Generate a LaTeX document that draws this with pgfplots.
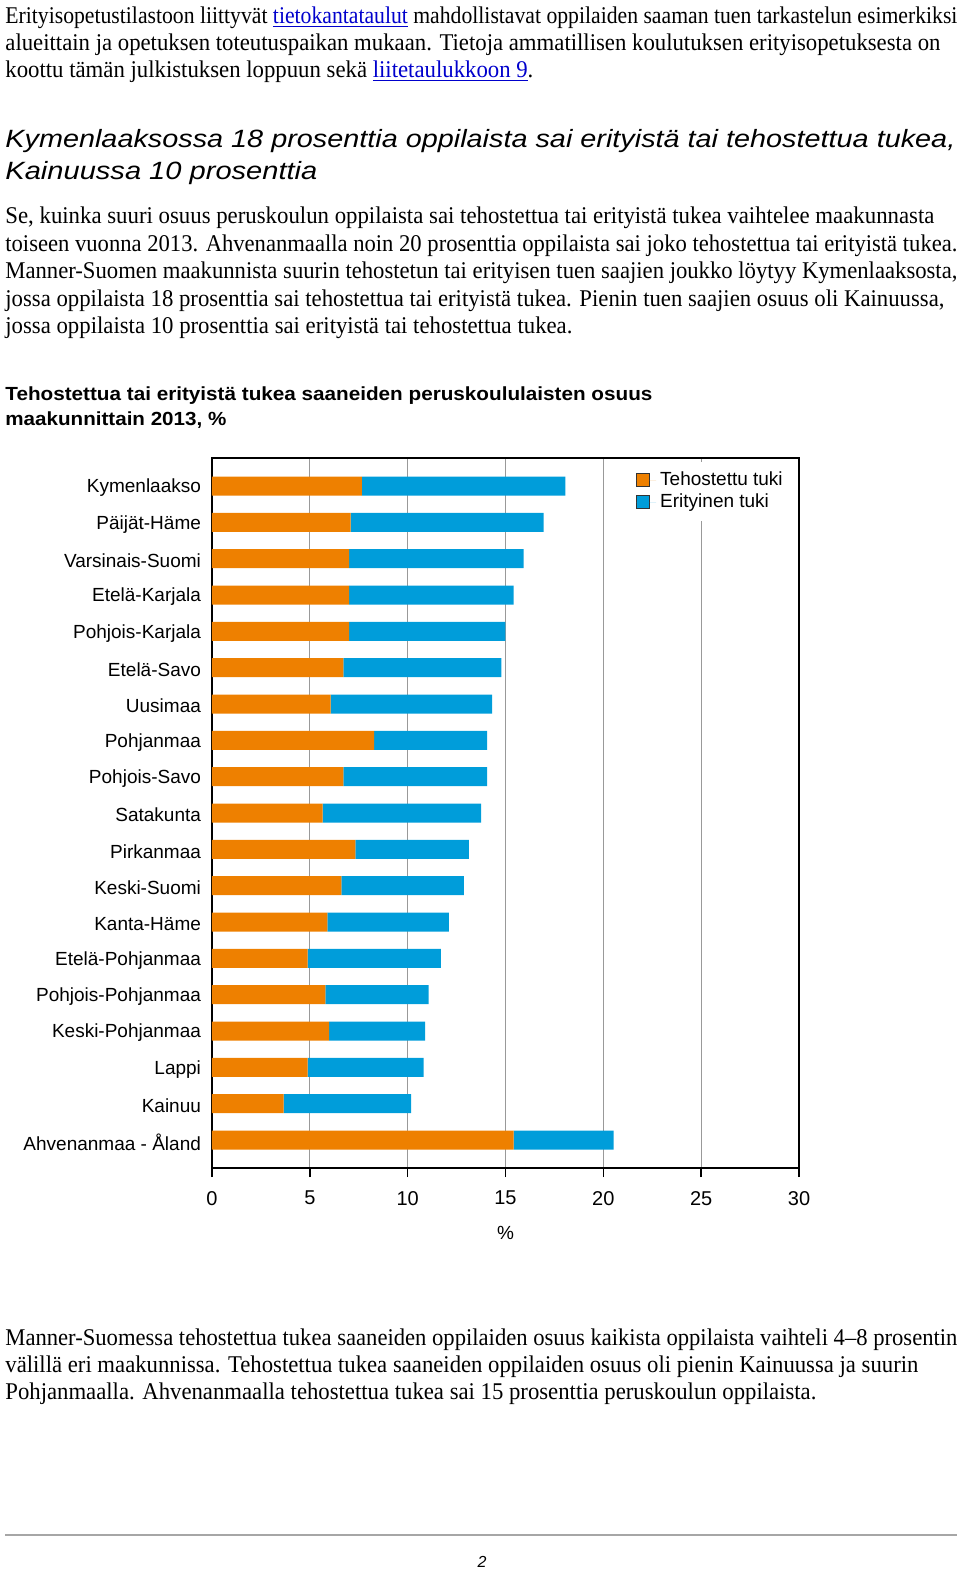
\documentclass[border=0pt]{standalone}
\usepackage{fontspec}
\setmainfont{Liberation Serif}
\newfontfamily\arial{Liberation Sans}
\usepackage{graphicx}
\usepackage{pgfplots}
\pgfplotsset{compat=1.18}
\definecolor{orangeC}{RGB}{238,128,0}
\definecolor{blueC}{RGB}{0,157,218}
\definecolor{linkblue}{RGB}{0,0,204}
\newcommand\fl[2]{\resizebox{#1}{\height}{#2}}
\newcommand\lnk[1]{\textcolor{linkblue}{\underline{#1}}}
\begin{document}
\begin{tikzpicture}
\begin{scope}[x=0.5pt,y=-0.5pt,
  body/.style={anchor=base west,inner sep=0pt,font=\fontsize{12}{14}\selectfont},
  head/.style={anchor=base west,inner sep=0pt,font=\arial\itshape\fontsize{12.5}{15}\selectfont},
  ctitle/.style={anchor=base west,inner sep=0pt,font=\arial\bfseries\fontsize{9.5}{11}\selectfont}]
\path[use as bounding box] (0,0) rectangle (960,1570);
\node[body] at (5,23) {\fl{476pt}{Erityisopetustilastoon liittyvät \lnk{tietokantataulut} mahdollistavat oppilaiden saaman tuen tarkastelun esimerkiksi}};
\node[body] at (5,50) {\fl{467.5pt}{alueittain ja opetuksen toteutuspaikan mukaan. Tietoja ammatillisen koulutuksen erityisopetuksesta on}};
\node[body] at (5,77) {\fl{264pt}{koottu tämän julkistuksen loppuun sekä \lnk{liitetaulukkoon 9}.}};
\node[head] at (5,147) {\fl{475pt}{Kymenlaaksossa 18 prosenttia oppilaista sai erityistä tai tehostettua tukea,}};
\node[head] at (5,179) {\fl{156pt}{Kainuussa 10 prosenttia}};
\node[body] at (5,223.5) {\fl{464.5pt}{Se, kuinka suuri osuus peruskoulun oppilaista sai tehostettua tai erityistä tukea vaihtelee maakunnasta}};
\node[body] at (5,251) {\fl{476pt}{toiseen vuonna 2013. Ahvenanmaalla noin 20 prosenttia oppilaista sai joko tehostettua tai erityistä tukea.}};
\node[body] at (5,278.5) {\fl{476pt}{Manner-Suomen maakunnista suurin tehostetun tai erityisen tuen saajien joukko löytyy Kymenlaaksosta,}};
\node[body] at (5,306) {\fl{469.5pt}{jossa oppilaista 18 prosenttia sai tehostettua tai erityistä tukea. Pienin tuen saajien osuus oli Kainuussa,}};
\node[body] at (5,333.5) {\fl{283.5pt}{jossa oppilaista 10 prosenttia sai erityistä tai tehostettua tukea.}};
\node[ctitle] at (5,400) {\fl{323.5pt}{Tehostettua tai erityistä tukea saaneiden peruskoululaisten osuus}};
\node[ctitle] at (5,425) {\fl{110.5pt}{maakunnittain 2013, \%}};
\node[body] at (5,1345) {\fl{476pt}{Manner-Suomessa tehostettua tukea saaneiden oppilaiden osuus kaikista oppilaista vaihteli 4–8 prosentin}};
\node[body] at (5,1372) {\fl{456.5pt}{välillä eri maakunnissa. Tehostettua tukea saaneiden oppilaiden osuus oli pienin Kainuussa ja suurin}};
\node[body] at (5,1399) {\fl{405.5pt}{Pohjanmaalla. Ahvenanmaalla tehostettua tukea sai 15 prosenttia peruskoulun oppilaista.}};
\draw[gray!70,line width=1pt] (5,1535) -- (957,1535);
\node[anchor=base,inner sep=0pt,font=\arial\itshape\fontsize{8}{9}\selectfont] at (482,1567) {2};
\end{scope}
\begin{axis}[
  at={(106pt,-584pt)}, anchor=south west,
  scale only axis, width=293.5pt, height=355pt,
  xbar stacked, bar width=9.5pt,
  xmin=0, xmax=30, ymin=-0.77, ymax=18.77, y dir=reverse,
  xtick={0,5,...,30}, ytick={0,...,18},
  yticklabels={Kymenlaakso,Päijät-Häme,Varsinais-Suomi,Etelä-Karjala,Pohjois-Karjala,Etelä-Savo,Uusimaa,Pohjanmaa,Pohjois-Savo,Satakunta,Pirkanmaa,Keski-Suomi,Kanta-Häme,Etelä-Pohjanmaa,Pohjois-Pohjanmaa,Keski-Pohjanmaa,Lappi,Kainuu,Ahvenanmaa - Åland},
  xmajorgrids, grid style={draw=gray!80, line width=0.6pt},
  axis line style={black, line width=0.8pt},
  tick align=outside, major tick length=4.5pt,
  xtick style={black, line width=0.8pt}, ytick style={draw=none},
  xtick pos=bottom, ytick pos=left,
  /pgf/number format/assume math mode=true,
  x tick label style={font=\arial\fontsize{10}{12}\selectfont, yshift=-3.5pt},
  y tick label style={font=\arial\fontsize{9.5}{11}\selectfont, xshift=2.5pt, yshift=-1pt},
  xlabel={\%}, xlabel style={font=\arial\fontsize{9.5}{11}\selectfont, yshift=-3.5pt},
  legend style={at={(rel axis cs:0.99,0.995)}, anchor=north east, draw=none, fill=white,
    font=\arial\fontsize{9.5}{11}\selectfont, row sep=-1.5pt, inner sep=3pt},
  legend image code/.code={\draw[#1,draw=black!80,line width=0.4pt] (0pt,-3.25pt) rectangle (6.5pt,3.25pt); \path (0pt,0pt) -- (10pt,0pt);},
  legend cell align=left,
]
\addplot[fill=orangeC, draw=none] coordinates {
 (7.66,0) (7.09,1) (7.01,2) (7.01,3) (7.01,4) (6.71,5) (6.06,6) (8.28,7) (6.71,8) (5.66,9)
 (7.33,10) (6.61,11) (5.90,12) (4.89,13) (5.80,14) (5.98,15) (4.89,16) (3.66,17) (15.41,18)};
\addplot[fill=blueC, draw=none] coordinates {
 (10.40,0) (9.86,1) (8.91,2) (8.40,3) (7.98,4) (8.08,5) (8.26,6) (5.78,7) (7.35,8) (8.10,9)
 (5.80,10) (6.26,11) (6.20,12) (6.81,13) (5.27,14) (4.91,15) (5.92,16) (6.52,17) (5.12,18)};
\legend{Tehostettu tuki, Erityinen tuki}
\end{axis}
\end{tikzpicture}
\end{document}
